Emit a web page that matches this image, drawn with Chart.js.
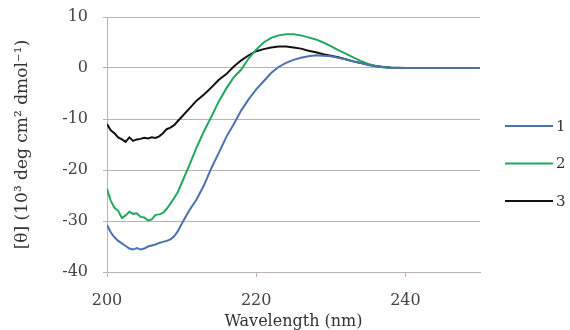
<!DOCTYPE html>
<html>
<head>
<meta charset="utf-8">
<script src="https://cdn.jsdelivr.net/npm/chart.js@4.4.1/dist/chart.umd.min.js"></script>
<style>
  html, body { margin: 0; padding: 0; background: #fff; }
  #wrap { width: 570px; height: 330px; }
</style>
</head>
<body>
<div id="wrap"><canvas id="cdChart" width="570" height="330"></canvas></div>
<script>
// wavelength (nm), 0.5 nm steps in the noisy part then 1 nm
var wavelengths = [200, 200.5, 201, 201.5, 202, 202.5, 203, 203.5, 204, 204.5, 205, 205.5, 206, 206.5, 207, 207.5, 208, 208.5, 209, 209.5, 210,
    211, 212, 213, 214, 215, 216, 217, 218, 219, 220, 221, 222, 223, 224, 225, 226, 227, 228, 229, 230,
    231, 232, 233, 234, 235, 236, 237, 238, 239, 240, 241, 242, 243, 244, 245, 246, 247, 248, 249, 250];

var series1 = [-30.8, -32.2, -33.2, -33.9, -34.4, -34.9, -35.4, -35.6, -35.3, -35.6, -35.4, -35.0, -34.8, -34.6, -34.3, -34.1, -33.9, -33.6, -33.0, -32.0, -30.6,
    -28.0, -25.8, -23.0, -19.6, -16.6, -13.5, -11.0, -8.3, -6.1, -4.2, -2.6, -1.0, 0.2, 1.0, 1.6, 2.0, 2.3, 2.5, 2.4, 2.3,
    2.0, 1.7, 1.3, 1.0, 0.6, 0.3, 0.15, 0.05, 0, 0, 0, 0, 0, 0, 0, 0, 0, 0, 0, 0];

var series2 = [-23.7, -26.0, -27.4, -28.0, -29.4, -28.9, -28.2, -28.6, -28.5, -29.2, -29.3, -29.9, -29.7, -28.8, -28.7, -28.4, -27.6, -26.6, -25.5, -24.3, -22.6,
    -19.2, -15.6, -12.4, -9.5, -6.5, -4.0, -1.8, -0.3, 1.9, 3.6, 5.0, 5.9, 6.4, 6.6, 6.6, 6.4, 6.0, 5.6, 5.0, 4.3,
    3.5, 2.8, 2.1, 1.4, 0.8, 0.4, 0.2, 0.05, 0, 0, 0, 0, 0, 0, 0, 0, 0, 0, 0, 0];

var series3 = [-11.0, -12.2, -12.8, -13.6, -14.0, -14.5, -13.6, -14.3, -14.0, -13.9, -13.7, -13.8, -13.6, -13.7, -13.4, -12.8, -12.0, -11.7, -11.2, -10.4, -9.6,
    -8.0, -6.4, -5.2, -3.8, -2.3, -1.2, 0.3, 1.5, 2.5, 3.3, 3.7, 4.0, 4.2, 4.2, 4.0, 3.8, 3.4, 3.1, 2.7, 2.4,
    2.1, 1.7, 1.3, 1.0, 0.7, 0.4, 0.2, 0.1, 0.05, 0, 0, 0, 0, 0, 0, 0, 0, 0, 0, 0];

var seriesNames = ["1", "2", "3"];
var seriesColors = ["#4a72ad", "#22a85c", "#111111"];

var gridColor = "#bdb2ad";
var serif = "'DejaVu Serif', 'Liberation Serif', serif";

function toPoints(values) {
    return wavelengths.map(function (w, i) { return { x: w, y: values[i] }; });
}

// legend drawn beside the plot, like the original
var sideLegend = {
    id: 'sideLegend',
    afterDraw: function (chart) {
        var ctx = chart.ctx;
        var area = chart.chartArea;
        var x0 = area.right + 25;
        ctx.save();
        ctx.font = "15px " + serif;
        ctx.textBaseline = "middle";
        chart.data.datasets.forEach(function (ds, i) {
            var y = area.top + 109 + i * 37.5;
            ctx.strokeStyle = ds.borderColor;
            ctx.lineWidth = 2;
            ctx.beginPath();
            ctx.moveTo(x0, y);
            ctx.lineTo(x0 + 48, y);
            ctx.stroke();
            ctx.fillStyle = "#333";
            ctx.fillText(ds.label, x0 + 51, y + 1);
        });
        ctx.restore();
    }
};

var ctx = document.getElementById("cdChart").getContext('2d');

var cdChart = new Chart(ctx, {
    type: 'line',
    data: {
        datasets: [
            { label: seriesNames[0], data: toPoints(series1), borderColor: seriesColors[0] },
            { label: seriesNames[1], data: toPoints(series2), borderColor: seriesColors[1] },
            { label: seriesNames[2], data: toPoints(series3), borderColor: seriesColors[2] }
        ]
    },
    options: {
        responsive: false,
        animation: false,
        layout: { padding: { left: 0, right: 90, top: 17, bottom: 0 } },
        elements: {
            line: { borderWidth: 2, tension: 0 },
            point: { radius: 0 }
        },
        plugins: {
            legend: { display: false },
            tooltip: { enabled: false }
        },
        scales: {
            x: {
                type: 'linear',
                min: 200,
                max: 250,
                afterFit: function (scale) {
                    scale.height = 58;
                    scale.paddingLeft = 0;
                    scale.paddingRight = 0;
                },
                ticks: {
                    stepSize: 20,
                    includeBounds: false,
                    color: "#444",
                    padding: 14,
                    font: { family: serif, size: 16 }
                },
                grid: { drawOnChartArea: false, drawTicks: true, tickLength: 5, color: gridColor },
                border: { display: true, color: gridColor },
                title: {
                    display: true,
                    text: "Wavelength (nm)",
                    color: "#333",
                    padding: { top: 0, bottom: 0 },
                    font: { family: serif, size: 16, lineHeight: 1 }
                }
            },
            y: {
                min: -40,
                max: 10,
                afterFit: function (scale) {
                    scale.width = 107;
                    scale.paddingTop = 0;
                    scale.paddingBottom = 0;
                },
                ticks: {
                    stepSize: 10,
                    color: "#444",
                    padding: 15,
                    font: { family: serif, size: 16 }
                },
                grid: { color: gridColor, tickLength: 4 },
                border: { display: true, color: gridColor },
                title: {
                    display: true,
                    text: "[θ] (10³ deg cm² dmol⁻¹)",
                    color: "#333",
                    padding: { top: 12, bottom: 0 },
                    font: { family: serif, size: 17 }
                }
            }
        }
    },
    plugins: [sideLegend]
});
</script>
</body>
</html>
